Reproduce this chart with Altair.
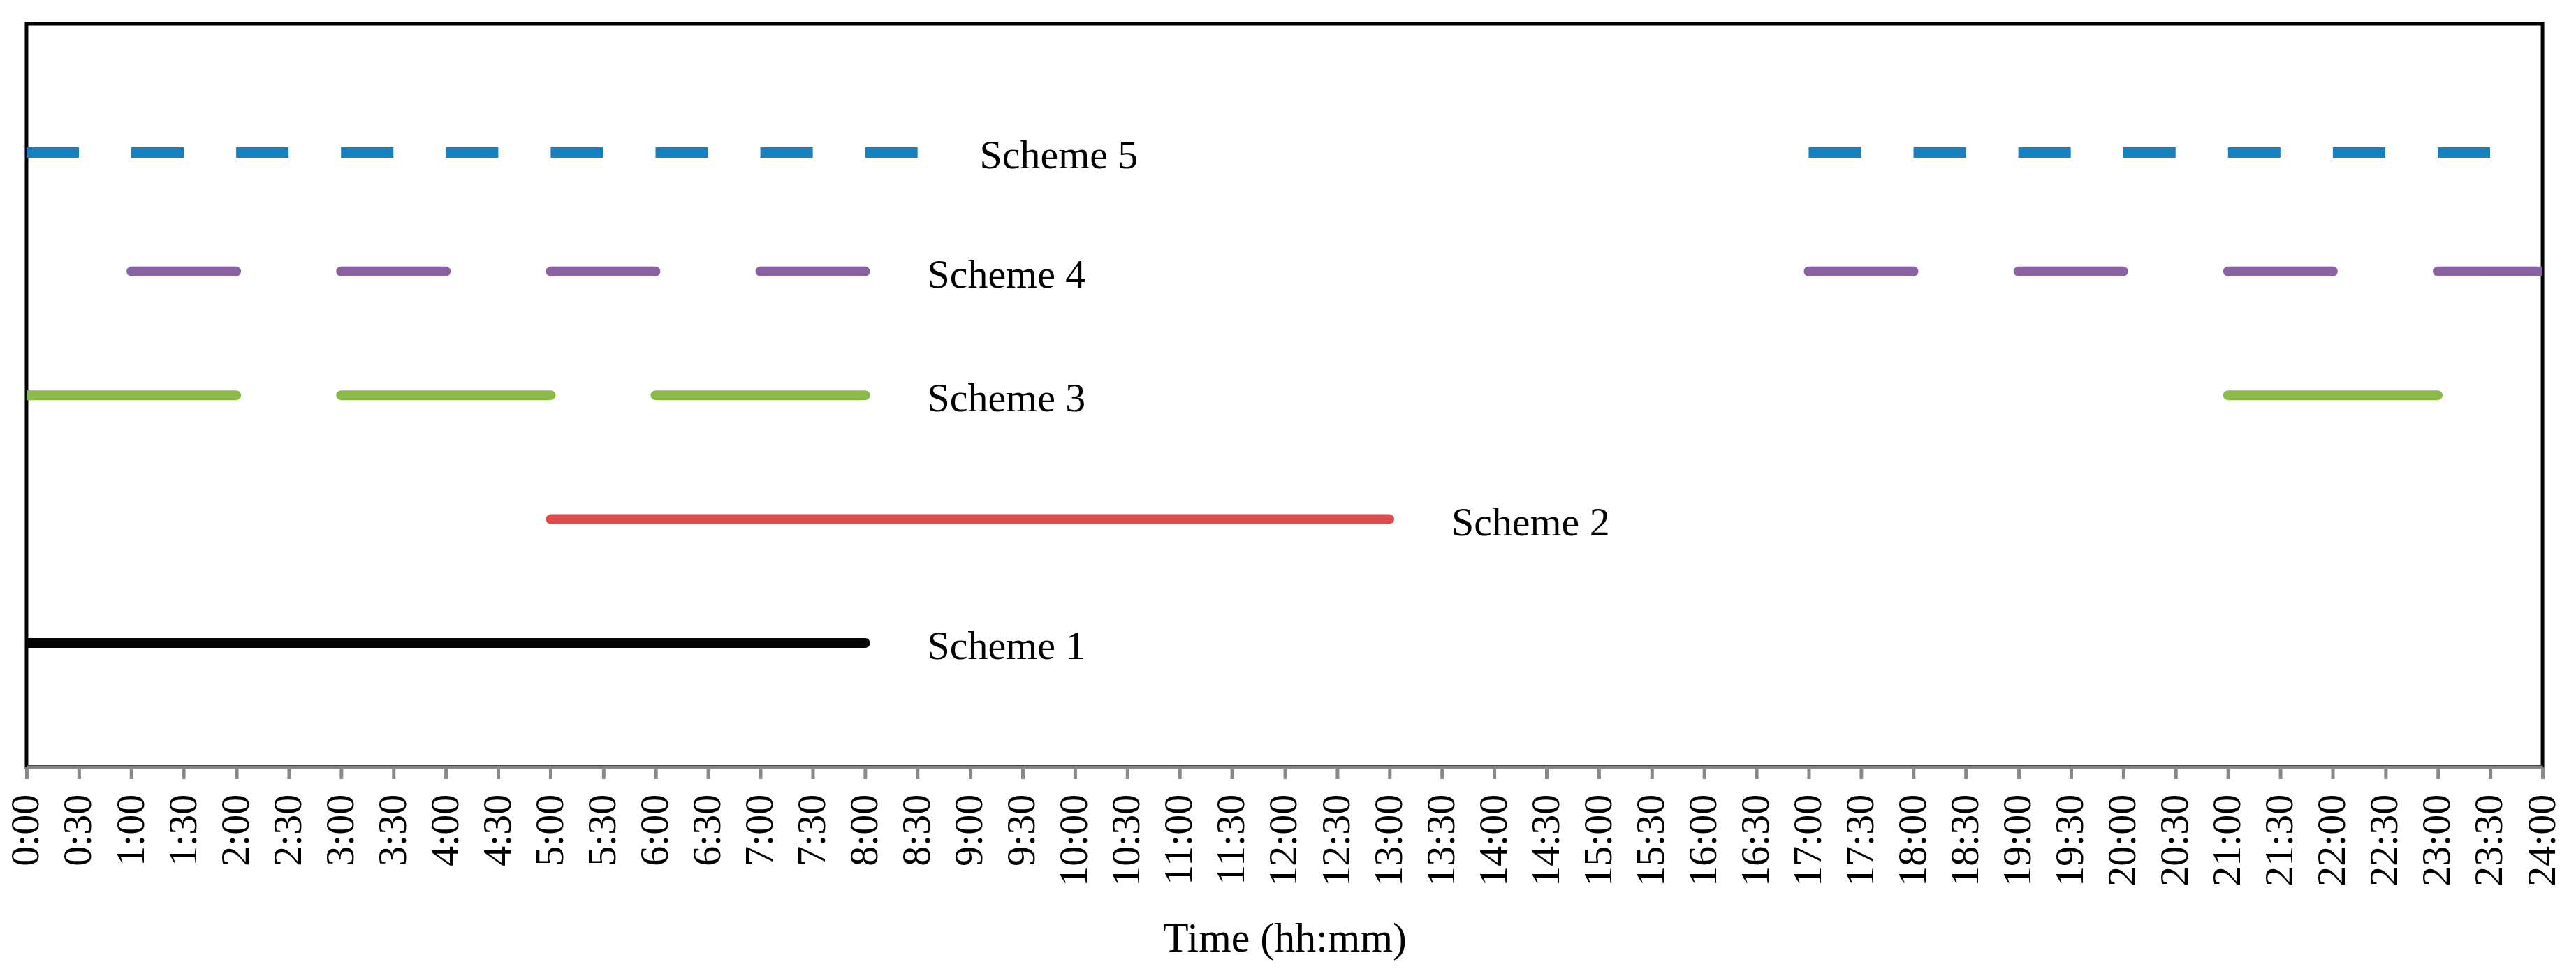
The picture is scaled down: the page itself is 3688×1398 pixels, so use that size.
import json
import altair as alt
import pandas as pd

# ---- data ----
scheme_names = ["Scheme 1", "Scheme 2", "Scheme 3", "Scheme 4", "Scheme 5"]
scheme_levels = [1, 2, 3, 4, 4.96]
scheme_colors = ["#050505", "#DC4C4A", "#8BBA4B", "#8A62A4", "#1780C0"]

# operating periods (hours) for each scheme
s1_start = [0]
s1_end = [8]
s2_start = [5]
s2_end = [13]
s3_start = [0, 3, 6, 21]
s3_end = [2, 5, 8, 23]
s4_start = [1, 3, 5, 7, 17, 19, 21, 23]
s4_end = [2, 4, 6, 8, 18, 20, 22, 24]
s5_start = [0, 1, 2, 3, 4, 5, 6, 7, 8, 17, 18, 19, 20, 21, 22, 23]
s5_end = [0.5, 1.5, 2.5, 3.5, 4.5, 5.5, 6.5, 7.5, 8.5, 17.5, 18.5, 19.5, 20.5, 21.5, 22.5, 23.5]

# where each scheme's text label sits (hours)
label_hours = [8, 13, 8, 8, 8.5]

tick_values = [i * 0.5 for i in range(49)]
tick_labels = [f"{i // 2}:{'30' if i % 2 else '00'}" for i in range(49)]

starts = [s1_start, s2_start, s3_start, s4_start, s5_start]
ends = [s1_end, s2_end, s3_end, s4_end, s5_end]

rows = []
for name, lvl, st, en in zip(scheme_names, scheme_levels, starts, ends):
    for a, b in zip(st, en):
        rows.append({"scheme": name, "level": lvl, "start": a, "end": b})
seg = pd.DataFrame(rows)
labels = pd.DataFrame({"scheme": scheme_names, "level": scheme_levels, "x": label_hours})

FONT = "Liberation Serif"

xscale = alt.Scale(domain=[0, 24], nice=False, zero=False)
yscale = alt.Scale(domain=[0, 6], nice=False)
cscale = alt.Scale(domain=scheme_names, range=scheme_colors)

label_expr = json.dumps(tick_labels) + "[round(datum.value*2)]"

xaxis = alt.Axis(
    values=tick_values,
    labelExpr=label_expr,
    labelAngle=270,
    labelFont=FONT,
    labelFontSize=58,
    labelColor="#000000",
    labelPadding=22,
    labelOverlap=False,
    labelFlush=False,
    tickSize=17,
    tickWidth=5,
    tickColor="#888888",
    domainColor="#888888",
    domainWidth=5,
    grid=False,
    title="Time (hh:mm)",
    titleFont=FONT,
    titleFontSize=60,
    titleFontWeight="normal",
    titleColor="#000000",
    titlePadding=46,
    zindex=1,
)

base = alt.Chart(seg)

round_rules = base.transform_filter(alt.datum.scheme != "Scheme 5").mark_rule(
    strokeWidth=14, strokeCap="round", clip=True
).encode(
    x=alt.X("start:Q", scale=xscale, axis=xaxis),
    x2="end:Q",
    y=alt.Y("level:Q", scale=yscale, axis=None),
    color=alt.Color("scheme:N", scale=cscale, legend=None),
)

butt_rules = base.transform_filter(alt.datum.scheme == "Scheme 5").mark_rule(
    strokeWidth=15, strokeCap="butt", clip=True
).encode(
    x=alt.X("start:Q", scale=xscale),
    x2="end:Q",
    y=alt.Y("level:Q", scale=yscale),
    color=alt.Color("scheme:N", scale=cscale, legend=None),
)

texts = alt.Chart(labels).mark_text(
    font=FONT, fontSize=58, align="left", baseline="middle", dx=89, dy=6, color="#000000"
).encode(
    x=alt.X("x:Q", scale=xscale),
    y=alt.Y("level:Q", scale=yscale),
    text="scheme:N",
)

chart = alt.layer(round_rules, butt_rules, texts).properties(
    width=3607,
    height=1066,
    autosize=alt.AutoSizeParams(type="none"),
    padding={"left": 30, "top": 25, "right": 40, "bottom": 290},
).configure(
    background="#ffffff",
    view=alt.ViewConfig(stroke="#000000", strokeWidth=5),
)

chart.save("out.html", embed_options={"renderer": "svg", "actions": False})
